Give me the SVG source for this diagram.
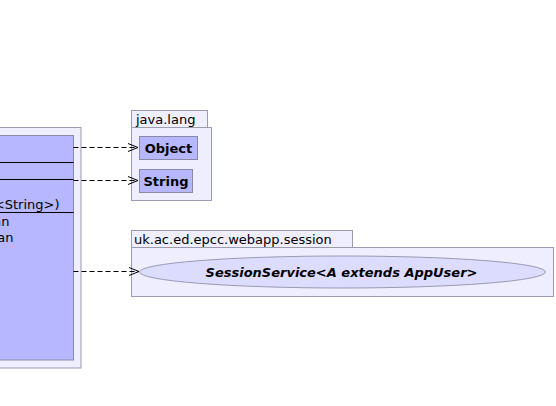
<svg xmlns="http://www.w3.org/2000/svg" width="556" height="406" viewBox="0 0 556 406">
<style>
.pkg{fill:#eeeeff;stroke:#9a9ab0;stroke-width:1}
.cls{fill:#b7b7ff;stroke:#8a8aa8;stroke-width:1}
.sep{stroke:#000;stroke-width:1}
.t{font-family:"DejaVu Sans",sans-serif;font-size:13px;fill:#000}
.b{font-family:"DejaVu Sans",sans-serif;font-size:13px;font-weight:bold;fill:#000}
.bi{font-family:"DejaVu Sans",sans-serif;font-size:13px;font-weight:bold;font-style:italic;fill:#000}
.dep{stroke:#000;stroke-width:1;stroke-dasharray:5,3;fill:none}
.head{stroke:#000;stroke-width:1;fill:none}
</style>
<rect width="556" height="406" fill="#fff"/>
<g id="pkg-left">
<rect class="pkg" x="-5" y="127.5" width="86" height="240.5"/>
<g id="class-main">
<rect class="cls" x="-5" y="135.5" width="78.5" height="224.5"/>
<line class="sep" x1="-5" y1="162.5" x2="73.5" y2="162.5"/>
<line class="sep" x1="-5" y1="179.5" x2="73.5" y2="179.5"/>
<line class="sep" x1="-5" y1="212.5" x2="73.5" y2="212.5"/>
<text class="t" x="59.5" y="209" text-anchor="end">&lt;String&gt;)</text>
<text class="t" x="9.5" y="226" text-anchor="end">an</text>
<text class="t" x="13.5" y="242" text-anchor="end">an</text>
</g>
</g>
<g id="pkg-java-lang">
<rect class="pkg" x="131.5" y="110.5" width="76" height="17"/>
<rect class="pkg" x="131.5" y="127.5" width="80" height="73"/>
<text class="t" x="136" y="123.5">java.lang</text>
<g id="class-object">
<rect class="cls" x="139.5" y="136.5" width="58" height="23"/>
<text class="b" x="168.5" y="152.5" text-anchor="middle">Object</text>
</g>
<g id="class-string">
<rect class="cls" x="139.5" y="169.5" width="53" height="23"/>
<text class="b" x="166" y="185.5" text-anchor="middle">String</text>
</g>
</g>
<g id="pkg-session">
<rect class="pkg" x="131.5" y="230.5" width="221" height="17"/>
<rect class="pkg" x="131.5" y="247.5" width="422" height="49"/>
<text class="t" x="134" y="243.5">uk.ac.ed.epcc.webapp.session</text>
<g id="iface-session-service">
<ellipse cx="342.5" cy="272" rx="203" ry="16" fill="#dcdcff" stroke="#9a9ab0" stroke-width="1"/>
<text class="bi" x="341.5" y="277" text-anchor="middle">SessionService&lt;A extends AppUser&gt;</text>
</g>
</g>
<g id="connectors">
<line class="dep" x1="73.5" y1="147.5" x2="138" y2="147.5"/>
<polyline class="head" points="128,143.5 138,147.5 128,151.5"/>
<line class="dep" x1="73.5" y1="180.5" x2="138" y2="180.5"/>
<polyline class="head" points="128,176.5 138,180.5 128,184.5"/>
<line class="dep" x1="73.5" y1="271.5" x2="139" y2="271.5"/>
<polyline class="head" points="129,267.5 139,271.5 129,275.5"/>
</g>
</svg>
